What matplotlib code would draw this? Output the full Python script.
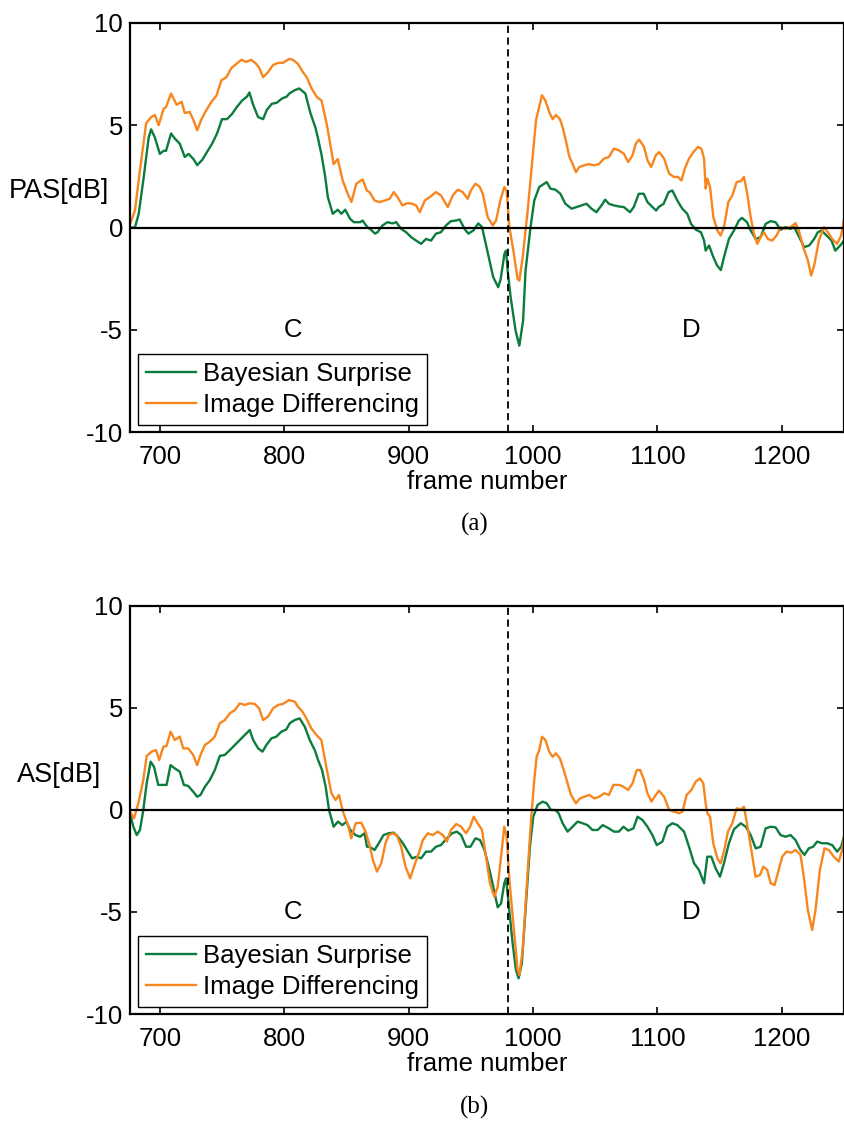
import numpy as np
import matplotlib.pyplot as plt

plt.rcParams['font.family'] = ['Liberation Sans', 'DejaVu Sans']
plt.rcParams['axes.unicode_minus'] = False

# (frame, dB) pairs
pas_bs = [(676, 0.0), (680, 0.0), (683, 0.67), (687, 2.45), (691, 4.4), (693, 4.8), (696, 4.4),
          (700, 3.6), (703, 3.75), (705, 3.75), (709, 4.6), (712, 4.35), (716, 4.1), (720, 3.45),
          (723, 3.6), (727, 3.35), (730, 3.05), (734, 3.3), (738, 3.7), (742, 4.1), (746, 4.6),
          (750, 5.3), (754, 5.3), (758, 5.55), (762, 5.9), (766, 6.2), (770, 6.4), (772, 6.6),
          (775, 6.0), (779, 5.4), (783, 5.3), (786, 5.75), (790, 6.05), (794, 6.1), (798, 6.3),
          (802, 6.4), (804, 6.55), (808, 6.7), (812, 6.8), (817, 6.55), (821, 5.6), (825, 4.9),
          (827, 4.4), (830, 3.55), (833, 2.45), (835, 1.5), (839, 0.67), (843, 0.87), (846, 0.67),
          (849, 0.87), (853, 0.42), (856, 0.26), (861, 0.26), (863, 0.34), (867, 0.0),
          (869, -0.07), (873, -0.3), (875, -0.23), (879, 0.1), (883, 0.26), (887, 0.2), (890, 0.26),
          (894, -0.07), (898, -0.23), (902, -0.47), (906, -0.64), (910, -0.8), (914, -0.56),
          (918, -0.64), (922, -0.3), (926, -0.23), (930, 0.1), (934, 0.31), (938, 0.34), (941, 0.39),
          (945, -0.07), (948, -0.3), (952, -0.15), (956, 0.2), (959, 0.02), (962, -0.8), (965, -1.62),
          (968, -2.43), (972, -2.92), (974, -2.52), (977, -1.29), (978.3, -1.13), (979.6, -2.1),
          (982, -3.4), (986, -5.05), (989, -5.78), (992, -4.56), (994, -2.1), (998, 0.02), (1001, 1.32),
          (1005, 1.98), (1008, 2.1), (1011, 2.22), (1014, 1.9), (1018, 1.85), (1022, 1.65),
          (1026, 1.16), (1031, 0.92), (1035, 1.0), (1039, 1.08), (1043, 1.16), (1047, 0.92),
          (1051, 0.75), (1055, 1.08), (1058, 1.36), (1061, 1.16), (1065, 1.08), (1069, 1.03),
          (1073, 1.0), (1078, 0.75), (1081, 1.0), (1085, 1.65), (1089, 1.65), (1092, 1.24),
          (1096, 1.0), (1099, 0.83), (1101, 1.0), (1105, 1.16), (1109, 1.73), (1112, 1.81),
          (1116, 1.32), (1120, 0.92), (1124, 0.67), (1127, 0.18), (1131, -0.11), (1135, -0.23),
          (1137.5, -0.64), (1138.8, -1.13), (1141.5, -0.88), (1145, -1.45), (1148, -1.86),
          (1151, -2.08), (1153.5, -1.45), (1157.5, -0.56), (1161.5, -0.15), (1165.5, 0.34),
          (1168, 0.47), (1172, 0.26), (1175, -0.15), (1179, -0.56), (1183, -0.47), (1187, 0.18),
          (1191, 0.31), (1195, 0.26), (1199, -0.11), (1203, 0.02), (1207, -0.07), (1210, 0.02),
          (1214, -0.47), (1218, -0.96), (1222, -0.88), (1226, -0.56), (1229, -0.23), (1232, -0.15),
          (1236, -0.39), (1240, -0.64), (1243, -1.13), (1247, -0.88), (1250, -0.64)]

pas_id = [(676, 0.18), (680, 0.83), (684, 2.8), (689, 5.1), (693, 5.4), (696, 5.5), (699, 5.0),
          (703, 5.8), (705, 5.9), (709, 6.55), (713.5, 6.0), (717.5, 6.15), (720, 5.6), (724, 5.65),
          (727, 5.25), (730, 4.75), (733.5, 5.3), (737.5, 5.75), (741.5, 6.15), (745.5, 6.45),
          (749.5, 7.2), (753.5, 7.35), (757.5, 7.8), (761.5, 8.0), (765.5, 8.2), (769.5, 8.1),
          (773.5, 8.2), (777.5, 8.0), (780, 7.8), (783, 7.35), (787, 7.6), (791, 7.95), (795, 8.05),
          (799, 8.05), (804, 8.25), (807, 8.2), (811, 8.0), (815, 7.6), (818, 7.35), (822, 6.8),
          (826, 6.4), (830, 6.2), (834, 5.1), (836.5, 4.25), (839.7, 3.1), (843, 3.35), (847, 2.3),
          (851, 1.65), (854, 1.25), (858, 2.15), (863, 2.35), (866.5, 1.8),
          (868.6, 1.73), (872.6, 1.32), (876.6, 1.24), (880.6, 1.32), (884.7, 1.4), (888, 1.73),
          (891, 1.49), (895, 1.08), (899, 1.19), (903, 1.16), (906, 1.08), (909, 0.75), (913, 1.32),
          (917, 1.49), (922, 1.73), (926, 1.57), (931.5, 1.0), (935.5, 1.57), (939.5, 1.85),
          (943.5, 1.73), (947.5, 1.4), (950, 1.81), (953.7, 2.14), (957, 2.0), (959.6, 1.65),
          (963.6, 0.5), (967.6, 0.1), (970.3, 0.34), (973.7, 1.32), (976.9, 1.98), (978.8, 1.81),
          (981, 0.02), (984.2, -1.13), (987.6, -2.52), (989, -2.6), (991.7, -1.45), (995.7, 0.83),
          (999.7, 3.45), (1002.4, 5.25), (1005, 5.9), (1007.2, 6.47), (1010, 6.2), (1013, 5.65),
          (1015.7, 5.3), (1018.4, 5.5), (1021.6, 5.3), (1023.8, 4.9), (1026.4, 4.25), (1029, 3.5),
          (1032.3, 3.04), (1034.5, 2.7), (1037, 2.95), (1041, 3.04), (1045, 3.1), (1049, 3.04),
          (1053, 3.1), (1057, 3.37), (1061, 3.45), (1065, 3.86), (1069, 3.77), (1073, 3.61),
          (1076.5, 3.2), (1080, 3.53), (1082.6, 4.1), (1085.3, 4.3), (1089.3, 3.94), (1092, 3.28),
          (1095, 2.96), (1098.7, 3.53), (1101.3, 3.69), (1105.4, 3.37), (1109.4, 2.63),
          (1113.4, 2.47), (1116.6, 2.47), (1119.3, 2.3), (1122, 2.88), (1125.4, 3.37), (1129, 3.69),
          (1132.6, 3.94), (1135.3, 3.86), (1137.5, 3.37), (1138.8, 1.9), (1140.1, 2.39),
          (1142.3, 1.98), (1145, 0.5), (1148.2, -0.15), (1150.8, -0.39), (1153.5, 0.02),
          (1157, 1.24), (1160.2, 1.57), (1163.7, 2.22), (1167, 2.27), (1169.6, 2.47), (1172.2, 1.65),
          (1175, 0.5), (1177.6, -0.31), (1180.3, -0.8), (1183, -0.47), (1185.6, -0.23),
          (1188.8, -0.56), (1192.3, -0.64), (1195.8, -0.39), (1199, 0.02), (1203, -0.07),
          (1207, 0.02), (1211, 0.21), (1213.7, -0.15), (1217.2, -0.96), (1221, -1.62),
          (1223.6, -2.35), (1226.3, -1.78), (1229.8, -0.64), (1233.8, 0.02), (1237, -0.23),
          (1240.5, -0.56), (1244.5, -0.8), (1247.7, -0.39), (1250, 0.42)]

as_bs = [(676, -0.16), (678.7, -0.82), (681.4, -1.23), (684, -0.98), (686.7, 0.0), (689.4, 1.31),
         (692.6, 2.37), (695.3, 2.12), (698.7, 1.23), (702.8, 1.23), (705.4, 1.23), (708.6, 2.2),
         (712, 2.04), (716, 1.88), (719.3, 1.23), (722.8, 1.18), (726.8, 0.9), (730, 0.65),
         (732.7, 0.74), (736.2, 1.14), (740.2, 1.47), (744.2, 1.96), (748.2, 2.65), (752.2, 2.7),
         (756.3, 2.94), (761.6, 3.27), (767, 3.6), (772.3, 3.92), (775, 3.43), (779, 3.02),
         (782.5, 2.86), (785.7, 3.19), (789.7, 3.51), (793.7, 3.6), (797.7, 3.84), (801.7, 3.95),
         (804.4, 4.25), (808.4, 4.41), (812.4, 4.49), (816.5, 4.08), (820.5, 3.43), (824.5, 2.94),
         (827.2, 2.45), (830.4, 1.96), (833.3, 1.14), (836, 0.0), (839.7, -0.82), (843.2, -0.57),
         (846.7, -0.74), (850, -0.57), (853, -0.98), (857.4, -1.23), (861, -1.31), (864.6, -1.14),
         (866.5, -1.8), (868.6, -1.8), (872.6, -1.96), (876, -1.63), (879.8, -1.23), (884, -1.14),
         (888, -1.11), (891.3, -1.31), (895.4, -1.63), (899.4, -2.04), (902.8, -2.37),
         (906.6, -2.29), (910, -2.37), (914, -2.04), (918, -2.04), (922, -1.8), (926, -1.72),
         (930.7, -1.39), (935, -1.14), (938.7, -1.06), (942.2, -1.23), (946.2, -1.8), (949.7, -1.8),
         (953.7, -1.39), (957.4, -1.47), (961, -1.96), (965, -2.94), (968, -3.76), (971.6, -4.77),
         (974.3, -4.58), (976.9, -3.59), (978.3, -3.35), (980.4, -4.58), (983.6, -6.54),
         (986.3, -7.84), (988.4, -8.25), (991, -7.52), (994.3, -4.58), (997.5, -1.8),
         (1000.2, -0.33), (1003.7, 0.25), (1007.7, 0.41), (1011, 0.33), (1014.4, 0.0), (1018, 0.0),
         (1020.6, -0.16), (1023.8, -0.65), (1027.8, -1.06), (1031.8, -0.82), (1035.8, -0.57),
         (1039.8, -0.65), (1043.8, -0.74), (1047.8, -0.98), (1052, -0.98), (1056, -0.74),
         (1061, -0.9), (1065, -1.06), (1069, -1.06), (1072.7, -0.82), (1076.5, -1.01),
         (1080.7, -0.9), (1084, -0.33), (1088, -0.49), (1092, -0.82), (1096, -1.23), (1099.5, -1.72),
         (1104, -1.55), (1108, -0.82), (1112, -0.65), (1116, -0.74), (1121.4, -1.06),
         (1125.4, -1.8), (1129.4, -2.61), (1133.4, -2.94), (1137.5, -3.59), (1140.1, -2.29),
         (1143.3, -2.29), (1146.8, -2.86), (1150.3, -3.27), (1153.5, -2.61), (1157.5, -1.63),
         (1161.5, -0.95), (1167, -0.65), (1171, -0.82), (1175, -1.23), (1179, -1.88), (1183, -1.8),
         (1187, -0.9), (1191, -0.82), (1195, -0.85), (1199, -1.23), (1203, -1.31), (1207, -1.23),
         (1211, -1.47), (1215, -1.96), (1218.2, -2.2), (1221.7, -1.88), (1225.2, -1.8),
         (1228.4, -1.55), (1232.4, -1.63), (1236.4, -1.63), (1240.5, -1.72), (1244.5, -2.04),
         (1247.7, -1.8), (1250, -1.31)]

as_id = [(676, -0.08), (679.2, -0.41), (682.7, 0.33), (686.7, 1.47), (689.4, 2.65), (693.4, 2.86),
         (696.9, 2.94), (699.5, 2.45), (702.8, 3.1), (705.4, 3.14), (708.6, 3.84), (712, 3.43),
         (716, 3.6), (718.8, 3.02), (722.8, 3.02), (726.8, 2.7), (730, 2.2), (732.7, 2.7),
         (736.2, 3.19), (740.2, 3.35), (744.2, 3.6), (748.2, 4.25), (752.2, 4.41), (756.3, 4.74),
         (760.3, 4.9), (764.3, 5.23), (768.3, 5.15), (772.3, 5.23), (776.3, 5.2), (779.8, 4.98),
         (783, 4.41), (787, 4.58), (791, 4.98), (795, 5.15), (799, 5.2), (803.9, 5.39),
         (808.4, 5.31), (811, 5.07), (814.6, 4.82), (817.8, 4.49), (821.8, 4.0), (825.8, 3.68),
         (829.8, 3.43), (833.8, 2.12), (837.9, 0.82), (841.3, 0.49), (844, 0.74), (847.2, -0.08),
         (851.2, -0.74), (853.9, -1.39), (857.4, -0.65), (861.9, -0.62), (865.4, -1.06),
         (868.6, -1.72), (871.3, -2.45), (874.5, -3.02), (878, -2.61), (881.4, -1.63), (884, -1.23),
         (887.3, -1.14), (890.5, -1.23), (894, -1.8), (897.5, -2.78), (901.2, -3.35), (904.7, -2.7),
         (908.2, -2.12), (911.4, -1.47), (915.4, -1.14), (919.4, -1.23), (923.4, -1.06),
         (927.5, -1.23), (930.7, -1.55), (934, -0.98), (938.2, -0.69), (942.2, -0.82),
         (946.2, -1.14), (949.4, -0.82), (952.3, -0.33), (955.5, -0.65), (959, -0.98),
         (962.2, -2.29), (965.4, -3.6), (968.9, -4.25), (971.6, -3.76), (974.3, -2.29),
         (976.9, -0.82), (978.8, -1.31), (981, -3.43), (984.2, -5.56), (987.6, -7.84), (989, -8.09),
         (991.7, -6.86), (994.9, -3.76), (998.4, -0.49), (1001, 1.47), (1002.9, 2.61), (1005, 2.94),
         (1007.2, 3.59), (1010, 3.43), (1013, 2.86), (1015.7, 2.61), (1018.4, 2.78), (1021.6, 2.53),
         (1024.3, 2.04), (1027, 1.47), (1030.5, 0.74), (1034.5, 0.33), (1037.7, 0.57),
         (1041.2, 0.65), (1045.2, 0.74), (1049.2, 0.57), (1053.2, 0.65), (1057.2, 0.82),
         (1061, 0.74), (1064.7, 1.23), (1069.2, 1.23), (1072.7, 1.14), (1076.5, 0.98), (1080, 1.31),
         (1083.4, 1.96), (1086.1, 1.96), (1089.3, 1.47), (1092, 0.82), (1095.2, 0.41),
         (1098.7, 0.74), (1101.3, 0.95), (1105.4, 0.65), (1109.4, 0.0), (1113.4, -0.08),
         (1117.4, -0.16), (1120.1, -0.08), (1123.5, 0.74), (1127.3, 0.98), (1130.8, 1.39),
         (1134.2, 1.55), (1136.9, 1.31), (1138.8, 0.33), (1140.1, -0.16), (1142.3, -0.33),
         (1144.9, -1.63), (1148.2, -2.37), (1150.8, -2.61), (1153.5, -2.04), (1156.7, -1.06),
         (1160.2, -0.65), (1163.7, 0.08), (1166.9, 0.03), (1169.6, 0.16), (1172.2, -0.74),
         (1175.5, -1.96), (1178.9, -3.27), (1182.4, -3.19), (1185.1, -2.78), (1188.3, -2.94),
         (1191, -3.59), (1194.2, -3.68), (1196.8, -3.1), (1200.3, -2.29), (1203.8, -2.04),
         (1207.6, -2.09), (1211, -1.96), (1215, -2.2), (1217.7, -3.27), (1220.9, -4.9),
         (1224.4, -5.88), (1227.1, -4.9), (1230.6, -2.94), (1234.3, -1.88), (1237.8, -1.96),
         (1241.8, -2.29), (1245.8, -2.53), (1248.5, -1.96), (1250, -1.39)]

labels = ['Bayesian Surprise', 'Image Differencing']
cut_frame = 980
x_ticks = [700, 800, 900, 1000, 1100, 1200]
y_ticks = [-10, -5, 0, 5, 10]

green = '#0b7c3d'
orange = '#f7861f'
fs = 18.5


def draw_panel(ax, bs, idiff, ylab, ylab_y):
    bs = np.array(bs)
    idiff = np.array(idiff)
    ax.plot(bs[:, 0], bs[:, 1], color=green, lw=1.7, label=labels[0])
    ax.plot(idiff[:, 0], idiff[:, 1], color=orange, lw=1.7, label=labels[1])
    ax.axhline(0, color='black', lw=1.6)
    ax.axvline(cut_frame, color='black', lw=1.3, dashes=(4, 2.5))
    ax.set_xlim(676, 1250)
    ax.set_ylim(-10, 10)
    ax.set_xticks(x_ticks)
    ax.set_yticks(y_ticks)
    ax.tick_params(direction='in', top=True, right=True, length=5, width=1.2,
                   labelsize=fs)
    ax.tick_params(axis='x', pad=9)
    ax.tick_params(axis='y', pad=5)
    for s in ax.spines.values():
        s.set_linewidth(1.6)
    ax.set_xlabel('frame number', fontsize=fs, labelpad=1)
    ax.text(-0.1, ylab_y, ylab, fontsize=19.5, ha='center', va='center',
            transform=ax.get_yaxis_transform())
    ax.text(807, -5, 'C', fontsize=fs, ha='center', va='center')
    ax.text(1127, -5, 'D', fontsize=fs, ha='center', va='center')
    leg = ax.legend(loc='lower left', bbox_to_anchor=(0.011, 0.017), borderaxespad=0,
                    fontsize=fs, fancybox=False, framealpha=1, edgecolor='black',
                    handlelength=1.95, handletextpad=0.3, labelspacing=0.3, borderpad=0.3)
    leg.get_frame().set_linewidth(1.0)


fig = plt.figure(figsize=(8.45, 11.22), dpi=100)
ax1 = fig.add_axes([130 / 845, 1 - 432 / 1122, 714 / 845, 409 / 1122])
ax2 = fig.add_axes([130 / 845, 1 - 1014 / 1122, 714 / 845, 408 / 1122])

draw_panel(ax1, pas_bs, pas_id, 'PAS[dB]', 1.8)
draw_panel(ax2, as_bs, as_id, 'AS[dB]', 1.7)

fig.text(475 / 845, 1 - 524 / 1122, '(a)', fontsize=18, family='Liberation Serif',
         ha='center', va='center')
fig.text(475 / 845, 1 - 1107 / 1122, '(b)', fontsize=18, family='Liberation Serif',
         ha='center', va='center')

fig.savefig('out.png', dpi=100)
